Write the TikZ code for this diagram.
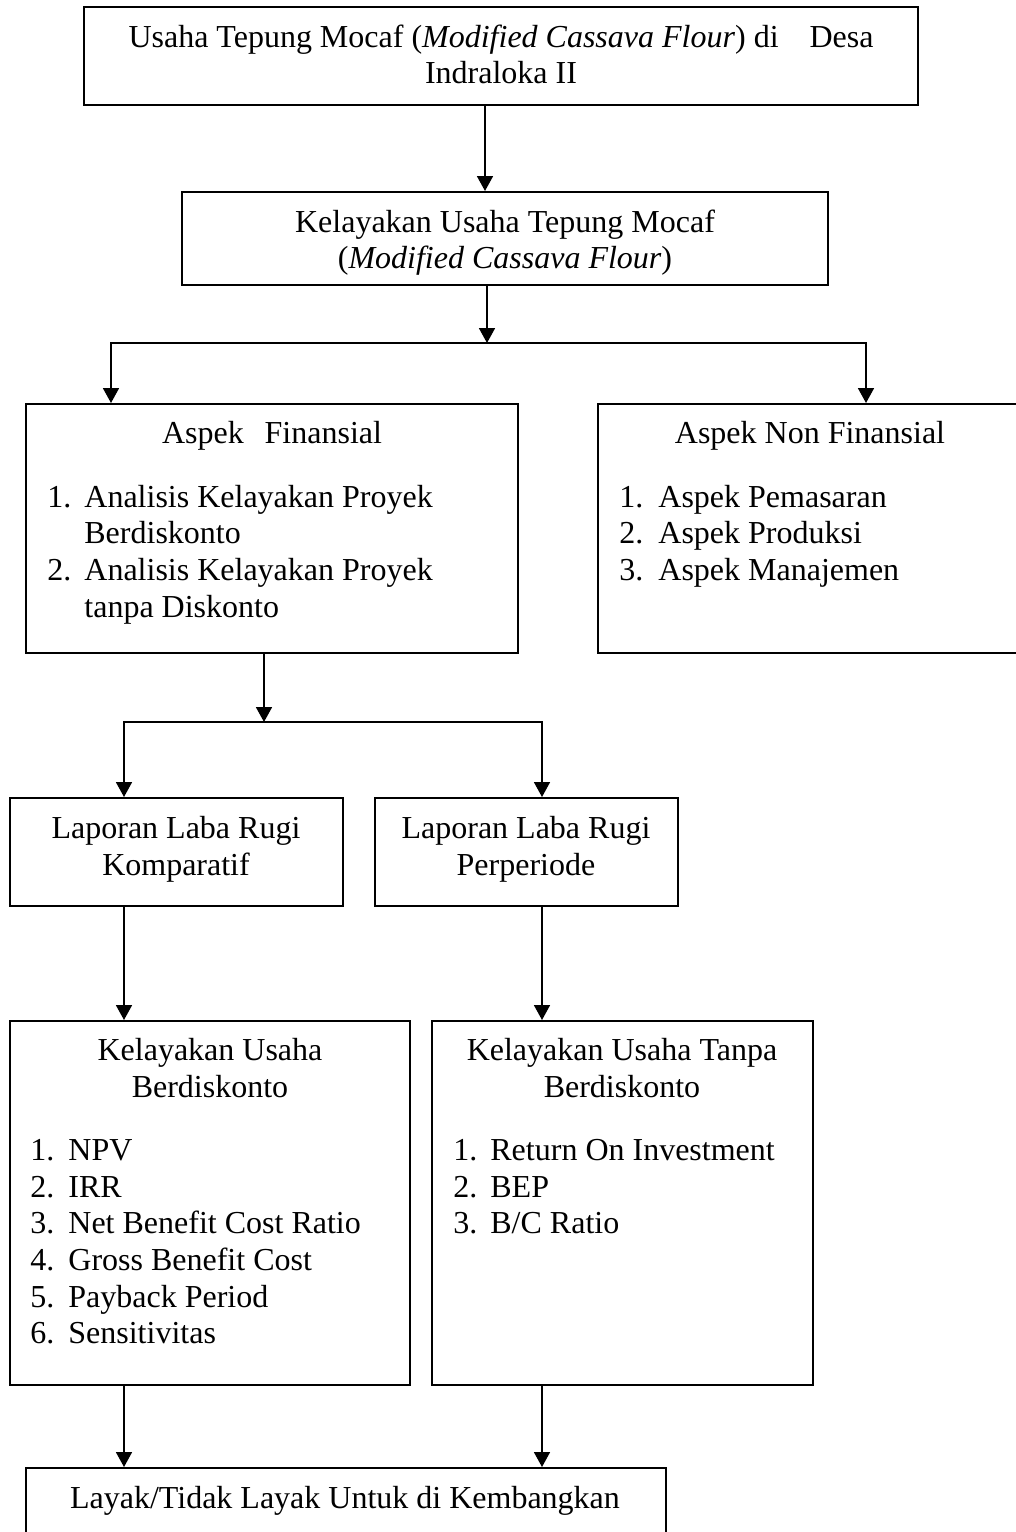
\documentclass[tikz,border=0pt]{standalone}
\usepackage{fontspec}
\setmainfont{Liberation Serif}
\usetikzlibrary{arrows.meta,fit}
\begin{document}
\begin{tikzpicture}[x=0.5pt,y=-0.5pt,
  box/.style={draw, line width=1pt, rectangle, inner sep=0pt},
  arr/.style={line width=0.9pt, -{Triangle[length=7.5pt,width=8pt]}},
  tc/.style={anchor=base, inner sep=0pt, font=\fontsize{16}{18.5}\selectfont},
  tl/.style={anchor=base west, inner sep=0pt, font=\fontsize{16}{18.5}\selectfont}]
\useasboundingbox (0,0) rectangle (1016,1532);

% boxes
\node[box, fit={(84,7) (918,105)}] (b1) {};
\node[box, fit={(182,192) (828,285)}] (b2) {};
\node[box, fit={(26,404) (518,653)}] (b3) {};
\node[box, fit={(598,404) (1024,653)}] (b4) {};
\node[box, fit={(10,798) (343,906)}] (b5) {};
\node[box, fit={(375,798) (678,906)}] (b6) {};
\node[box, fit={(10,1021) (410,1385)}] (b7) {};
\node[box, fit={(432,1021) (813,1385)}] (b8) {};
\node[box, fit={(26,1468) (666,1548)}] (b9) {};

% texts
\node[tc] (t1a) at (501,47) {\makebox[372.5pt]{Usaha Tepung Mocaf (\textit{Modified Cassava Flour}) di\hfill Desa}};
\node[tc] (t1b) at (501,83) {Indraloka II};
\node[tc] (t2a) at (505,232) {Kelayakan Usaha Tepung Mocaf};
\node[tc] (t2b) at (505,268) {(\textit{Modified Cassava Flour})};

\node[tc] (t3) at (272,443) {\makebox[110pt]{Aspek\hfill Finansial}};
\node[tl] (t3n1) at (47,507) {1.};
\node[tl] (t3i1) at (84,507) {Analisis Kelayakan Proyek};
\node[tl] (t3i1b) at (84,543) {Berdiskonto};
\node[tl] (t3n2) at (47,580) {2.};
\node[tl] (t3i2) at (84,580) {Analisis Kelayakan Proyek};
\node[tl] (t3i2b) at (84,617) {tanpa Diskonto};

\node[tc] (t4) at (810,443) {Aspek Non Finansial};
\node[tl] (t4n1) at (619,507) {1.};
\node[tl] (t4i1) at (658,507) {Aspek Pemasaran};
\node[tl] (t4n2) at (619,543) {2.};
\node[tl] (t4i2) at (658,543) {Aspek Produksi};
\node[tl] (t4n3) at (619,580) {3.};
\node[tl] (t4i3) at (658,580) {Aspek Manajemen};

\node[tc] (t5a) at (176,838) {Laporan Laba Rugi};
\node[tc] (t5b) at (176,875) {Komparatif};
\node[tc] (t6a) at (526,838) {Laporan Laba Rugi};
\node[tc] (t6b) at (526,875) {Perperiode};

\node[tc] (t7a) at (210,1060) {Kelayakan Usaha};
\node[tc] (t7b) at (210,1097) {Berdiskonto};
\node[tl] (t7n1) at (30,1160) {1.};
\node[tl] (t7i1) at (68,1160) {NPV};
\node[tl] (t7n2) at (30,1197) {2.};
\node[tl] (t7i2) at (68,1197) {IRR};
\node[tl] (t7n3) at (30,1233) {3.};
\node[tl] (t7i3) at (68,1233) {Net Benefit Cost Ratio};
\node[tl] (t7n4) at (30,1270) {4.};
\node[tl] (t7i4) at (68,1270) {Gross Benefit Cost};
\node[tl] (t7n5) at (30,1307) {5.};
\node[tl] (t7i5) at (68,1307) {Payback Period};
\node[tl] (t7n6) at (30,1343) {6.};
\node[tl] (t7i6) at (68,1343) {Sensitivitas};

\node[tc] (t8a) at (622,1060) {Kelayakan Usaha Tanpa};
\node[tc] (t8b) at (622,1097) {Berdiskonto};
\node[tl] (t8n1) at (453,1160) {1.};
\node[tl] (t8i1) at (490,1160) {Return On Investment};
\node[tl] (t8n2) at (453,1197) {2.};
\node[tl] (t8i2) at (490,1197) {BEP};
\node[tl] (t8n3) at (453,1233) {3.};
\node[tl] (t8i3) at (490,1233) {B/C Ratio};

\node[tc] (t9) at (345,1508) {Layak/Tidak Layak Untuk di Kembangkan};

% connector coordinates
\coordinate (a1) at (485,0);
\coordinate (a2) at (487,0);
\coordinate (s1) at (487,343);
\coordinate (xl1) at (111,0);
\coordinate (xr1) at (866,0);
\coordinate (a3) at (264,0);
\coordinate (s2) at (264,722);
\coordinate (xl2) at (124,0);
\coordinate (xr2) at (542,0);

% connectors
\draw[arr] (b1.south -| a1) -- (b2.north -| a1);
\draw[arr] (b2.south -| a2) -- (s1);
\draw[arr] (s1) -| (b3.north -| xl1);
\draw[arr] (s1) -| (b4.north -| xr1);
\draw[arr] (b3.south -| a3) -- (s2);
\draw[arr] (s2) -| (b5.north -| xl2);
\draw[arr] (s2) -| (b6.north -| xr2);
\draw[arr] (b5.south -| xl2) -- (b7.north -| xl2);
\draw[arr] (b6.south -| xr2) -- (b8.north -| xr2);
\draw[arr] (b7.south -| xl2) -- (b9.north -| xl2);
\draw[arr] (b8.south -| xr2) -- (b9.north -| xr2);
\end{tikzpicture}
\end{document}
